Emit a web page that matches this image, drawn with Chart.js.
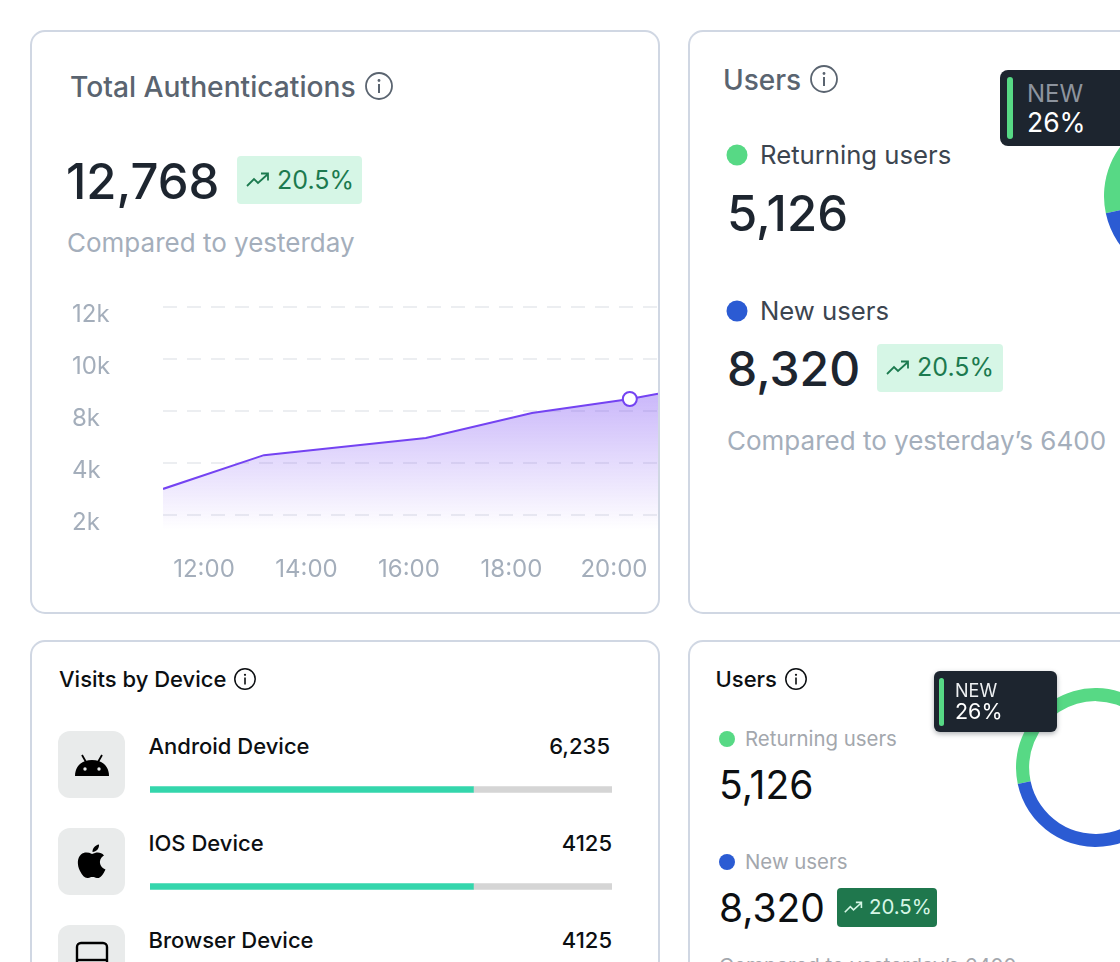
<!DOCTYPE html>
<html>
<head>
<meta charset="utf-8">
<title>Dashboard</title>
<script src="https://cdn.jsdelivr.net/npm/chart.js@4"></script>
<style>
html,body{margin:0;padding:0;background:#fff;}
body{width:1120px;height:962px;overflow:hidden;position:relative;font-family:Inter,"Noto Sans",sans-serif;}
.card{position:absolute;box-sizing:border-box;background:#fff;border:2px solid #d0d7e3;border-radius:15px;}
.t{position:absolute;white-space:nowrap;transform:translateY(-50%);line-height:1;}
.r{transform:translate(-100%,-50%);}
.dot{position:absolute;border-radius:50%;transform:translate(-50%,-50%);}
.badge{position:absolute;border-radius:4px;}
.tile{position:absolute;left:58px;width:67px;height:67px;border-radius:12px;background:#e9ebeb;}
canvas{position:absolute;}
svg{position:absolute;overflow:visible;}
.tip{position:absolute;background:#1d252f;}
.bar{position:absolute;background:#57d985;border-radius:3px;}
</style>
</head>
<body>
<div class="card" style="left:30px;top:30px;width:630px;height:584px"></div>
<div class="card" style="left:688px;top:30px;width:630px;height:584px"></div>
<div class="card" style="left:30px;top:640px;width:630px;height:584px"></div>
<div class="card" style="left:688px;top:640px;width:630px;height:584px"></div>

<!-- total authentications -->
<div class="t" style="left:70px;top:87px;font-size:28.2px;font-weight:500;color:#5a6470">Total Authentications</div>
<svg style="left:365px;top:72px" width="28" height="28" viewBox="0 0 28 28"><circle cx="14" cy="14" r="13" fill="none" stroke="#5a6470" stroke-width="1.8"/><circle cx="14" cy="8.5" r="1.4" fill="#5a6470"/><rect x="13" y="12" width="2" height="9" fill="#5a6470"/></svg>
<div class="t" style="left:66px;top:181px;font-size:49px;font-weight:500;color:#1d252f">12,768</div>
<div class="badge" style="left:237px;top:156px;width:125px;height:48px;background:#d6f6e6"></div>
<svg style="left:246px;top:171px" width="24" height="18" viewBox="0 0 24 18"><path d="M1 15 L8 8 L12 12 L22 3 M15 2.5 H22 V9.5" fill="none" stroke="#1c7a4f" stroke-width="1.8"/></svg>
<div class="t" style="left:277px;top:180px;font-size:25px;color:#1c7a4f">20.5%</div>
<div class="t" style="left:67px;top:243px;font-size:26px;color:#a4aebb">Compared to yesterday</div>
<canvas id="authChart"></canvas>

<!-- users, large -->
<div class="t" style="left:723px;top:80px;font-size:28px;font-weight:500;color:#5a6470">Users</div>
<svg style="left:810px;top:65px" width="28" height="28" viewBox="0 0 28 28"><circle cx="14" cy="14" r="13" fill="none" stroke="#5a6470" stroke-width="1.8"/><circle cx="14" cy="8.5" r="1.4" fill="#5a6470"/><rect x="13" y="12" width="2" height="9" fill="#5a6470"/></svg>
<div class="dot" style="left:737px;top:155px;width:21px;height:21px;background:#57d985"></div>
<div class="t" style="left:760px;top:155px;font-size:25.7px;color:#3c4550">Returning users</div>
<div class="t" style="left:727px;top:213px;font-size:49px;font-weight:500;color:#1d252f">5,126</div>
<div class="dot" style="left:737px;top:311px;width:21px;height:21px;background:#2b5bd3"></div>
<div class="t" style="left:760px;top:311px;font-size:25.7px;color:#3c4550">New users</div>
<div class="t" style="left:727px;top:369px;font-size:48px;font-weight:500;color:#1d252f">8,320</div>
<div class="badge" style="left:877px;top:344px;width:126px;height:48px;background:#d6f6e6"></div>
<svg style="left:886px;top:359px" width="24" height="18" viewBox="0 0 24 18"><path d="M1 15 L8 8 L12 12 L22 3 M15 2.5 H22 V9.5" fill="none" stroke="#1c7a4f" stroke-width="1.8"/></svg>
<div class="t" style="left:917px;top:367px;font-size:25px;color:#1c7a4f">20.5%</div>
<div class="t" style="left:727px;top:441px;font-size:26px;color:#a4aebb">Compared to yesterday’s 6400</div>
<canvas id="usersChart"></canvas>
<div class="tip" style="left:1000px;top:70px;width:140px;height:76px;border-radius:8px"></div>
<div class="bar" style="left:1007px;top:77px;width:6px;height:62px"></div>
<div class="t" style="left:1027px;top:94px;font-size:24px;color:#8d949e">NEW</div>
<div class="t" style="left:1027px;top:122px;font-size:26.5px;color:#fff">26%</div>

<!-- visits by device -->
<div class="t" style="left:59px;top:679px;font-size:22px;font-weight:500;color:#0c0f12">Visits by Device</div>
<svg style="left:234px;top:668px" width="22" height="22" viewBox="0 0 22 22"><circle cx="11" cy="11" r="10.2" fill="none" stroke="#0c0f12" stroke-width="1.5"/><circle cx="11" cy="6.8" r="1.1" fill="#0c0f12"/><rect x="10.2" y="9.5" width="1.6" height="7" fill="#0c0f12"/></svg>
<div class="tile" style="top:731px"></div>
<svg style="left:74px;top:754px" width="36" height="24" viewBox="0 0 36 24"><path d="M1 22 C1 12 8 6 18 6 C28 6 35 12 35 22 Z" fill="#000"/><path d="M8 1 L12 8 M28 1 L24 8" stroke="#000" stroke-width="1.8"/><circle cx="11" cy="15" r="1.7" fill="#e9ebeb"/><circle cx="25" cy="15" r="1.7" fill="#e9ebeb"/></svg>
<div class="tile" style="top:828px"></div>
<svg style="left:77px;top:844px" width="30" height="35" viewBox="0 0 30 35"><path d="M15 10 C11 8 7 8 4 10.5 C0 14 0 21 3 27 C5.5 32 8 34.5 11 34 C13 33.6 14 33 15.5 33 C17 33 18 33.6 20 34 C23 34.5 26 31 28.5 25.5 C24.5 24 22.5 20.5 23 17 C23.4 14.5 25 12.8 27 11.5 C24.5 8.5 21 8 18 9 C17 9.4 16 9.8 15 10 Z M15.5 8 C15.3 4.5 18 1 22 0.5 C22.4 4.5 19.5 7.8 15.5 8 Z" fill="#000"/></svg>
<div class="tile" style="top:925px"></div>
<svg style="left:75px;top:941px" width="34" height="28" viewBox="0 0 34 28"><rect x="2" y="2" width="30" height="24" rx="4" fill="none" stroke="#000" stroke-width="2.4"/><path d="M2 19 H32" stroke="#000" stroke-width="2.4"/></svg>
<div class="t" style="left:148.5px;top:746px;font-size:22px;font-weight:500;color:#0c0f12">Android Device</div>
<div class="t r" style="left:610px;top:746px;font-size:22px;font-weight:500;color:#0c0f12">6,235</div>
<div class="t" style="left:148.5px;top:843px;font-size:22px;font-weight:500;color:#0c0f12">IOS Device</div>
<div class="t r" style="left:612px;top:843px;font-size:22px;font-weight:500;color:#0c0f12">4125</div>
<div class="t" style="left:148.5px;top:940px;font-size:22px;font-weight:500;color:#0c0f12">Browser Device</div>
<div class="t r" style="left:612px;top:940px;font-size:22px;font-weight:500;color:#0c0f12">4125</div>
<canvas id="deviceChart"></canvas>

<!-- users, small -->
<div class="t" style="left:715.5px;top:679px;font-size:22px;font-weight:500;color:#0c0f12">Users</div>
<svg style="left:785px;top:668px" width="22" height="22" viewBox="0 0 22 22"><circle cx="11" cy="11" r="10.2" fill="none" stroke="#0c0f12" stroke-width="1.5"/><circle cx="11" cy="6.8" r="1.1" fill="#0c0f12"/><rect x="10.2" y="9.5" width="1.6" height="7" fill="#0c0f12"/></svg>
<div class="dot" style="left:727px;top:739px;width:16px;height:16px;background:#57d985"></div>
<div class="t" style="left:745px;top:739px;font-size:20.4px;color:#a3a7ad">Returning users</div>
<div class="t" style="left:719px;top:784px;font-size:39px;color:#0c0f12">5,126</div>
<div class="dot" style="left:727px;top:862px;width:16px;height:16px;background:#2b5bd3"></div>
<div class="t" style="left:745px;top:862px;font-size:20.4px;color:#a3a7ad">New users</div>
<div class="t" style="left:719px;top:907px;font-size:39px;color:#0c0f12">8,320</div>
<div class="badge" style="left:837px;top:888px;width:100px;height:39px;background:#1f774d"></div>
<svg style="left:844px;top:900px" width="19" height="15" viewBox="0 0 24 18"><path d="M1 15 L8 8 L12 12 L22 3 M15 2.5 H22 V9.5" fill="none" stroke="#d6f6e6" stroke-width="2"/></svg>
<div class="t" style="left:869px;top:907px;font-size:20.4px;color:#d6f6e6">20.5%</div>
<div class="t" style="left:719px;top:966px;font-size:20.4px;color:#a3a7ad">Compared to yesterday’s 6400</div>
<canvas id="usersChartSmall"></canvas>
<div class="tip" style="left:934px;top:671px;width:123px;height:61px;border-radius:6px;box-shadow:0 2px 5px rgba(29,37,47,.35)"></div>
<div class="bar" style="left:939px;top:678px;width:5px;height:48px"></div>
<div class="t" style="left:955px;top:691px;font-size:18px;color:#eef0f2">NEW</div>
<div class="t" style="left:955px;top:712px;font-size:21.5px;color:#fff">26%</div>

<script>
// x in hours, y in axis steps (the picture's axis goes 2k,4k,8k,10k,12k at even spacing)
const authHours=[11.2,13.17,16.33,18.4,20.31,20.86];
const authValues=[3,4.3,4.96,5.92,6.46,6.66];
const markerRadius=[0,0,0,0,7,0];
const xTickHours=[12,14,16,18,20];
const yTickSteps=[2,4,6,8,10];
const yTickLabels=["2k","4k","8k","10k","12k"];

const userLabels=["Returning users","New users"];
const userValues=[5126,8320];
const userColors=["#57d985","#2b5bd3"];

const deviceNames=["Android Device","IOS Device","Browser Device"];
const deviceShare=[70,70,70];
const deviceRest=[30,30,30];

Chart.defaults.animation=false;
Chart.defaults.responsive=false;
Chart.defaults.font.family="Inter";
Chart.defaults.plugins.legend.display=false;
Chart.defaults.plugins.tooltip.enabled=false;

function place(id,left,top,w,h){
    const c=document.getElementById(id);
    c.style.left=left+"px";
    c.style.top=top+"px";
    c.width=w;
    c.height=h;
    return c.getContext("2d");
}

new Chart(place("authChart",32,280,626,310),{
    type:"line",
    data:{
        datasets:[{
            data:authHours.map((h,i)=>({x:h,y:authValues[i]})),
            borderColor:"#7443f2",
            borderWidth:2,
            tension:0,
            fill:"start",
            pointRadius:markerRadius,
            pointBackgroundColor:"#fff",
            pointBorderColor:"#7443f2",
            pointBorderWidth:2,
            backgroundColor(ctx){
                const area=ctx.chart.chartArea;
                if(!area) return "rgba(116,67,242,.3)";
                const y=ctx.chart.scales.y;
                const g=ctx.chart.ctx.createLinearGradient(0,y.getPixelForValue(6.66),0,area.bottom);
                g.addColorStop(0,"rgba(116,67,242,.38)");
                g.addColorStop(1,"rgba(116,67,242,0)");
                return g;
            }
        }]
    },
    options:{
        layout:{padding:{left:40,top:15,right:0,bottom:0}},
        scales:{
            x:{
                type:"linear",min:11.2,max:20.86,
                border:{display:false},
                grid:{display:false},
                afterBuildTicks(s){s.ticks=xTickHours.map(v=>({value:v}));},
                afterFit(s){s.height=60;s.paddingLeft=0;s.paddingRight=0;},
                ticks:{
                    maxRotation:0,padding:17,color:"#a4aebb",font:{size:24},
                    callback:v=>v+":00"
                }
            },
            y:{
                min:1.42,max:10.46,
                border:{display:false,dash:[14,10]},
                grid:{color:"#eceef1",lineWidth:2,drawTicks:false,tickLength:0},
                afterBuildTicks(s){s.ticks=yTickSteps.map(v=>({value:v}));},
                afterFit(s){s.width=91;},
                ticks:{
                    crossAlign:"far",labelOffset:8,padding:0,color:"#a4aebb",font:{size:24},
                    callback:v=>yTickLabels[yTickSteps.indexOf(v)]
                }
            }
        }
    }
});

function usersRing(id,left,top,size,cutout){
    new Chart(place(id,left,top,size,size),{
        type:"doughnut",
        data:{labels:userLabels,datasets:[{data:userValues,backgroundColor:userColors,borderWidth:0}]},
        options:{rotation:258,cutout:cutout,layout:{padding:0}}
    });
}
usersRing("usersChart",1104,113,166,"70%");
usersRing("usersChartSmall",1016,688,159,"83.5%");

new Chart(place("deviceChart",150,741,462,291),{
    type:"bar",
    data:{
        labels:deviceNames,
        datasets:[
            {data:deviceShare,backgroundColor:"#34d6ac",barThickness:6,borderWidth:0},
            {data:deviceRest,backgroundColor:"#d5d5d5",barThickness:6,borderWidth:0}
        ]
    },
    options:{
        indexAxis:"y",
        layout:{padding:0},
        scales:{
            x:{display:false,stacked:true,min:0,max:100},
            y:{display:false,stacked:true}
        }
    }
});
</script>
</body>
</html>
